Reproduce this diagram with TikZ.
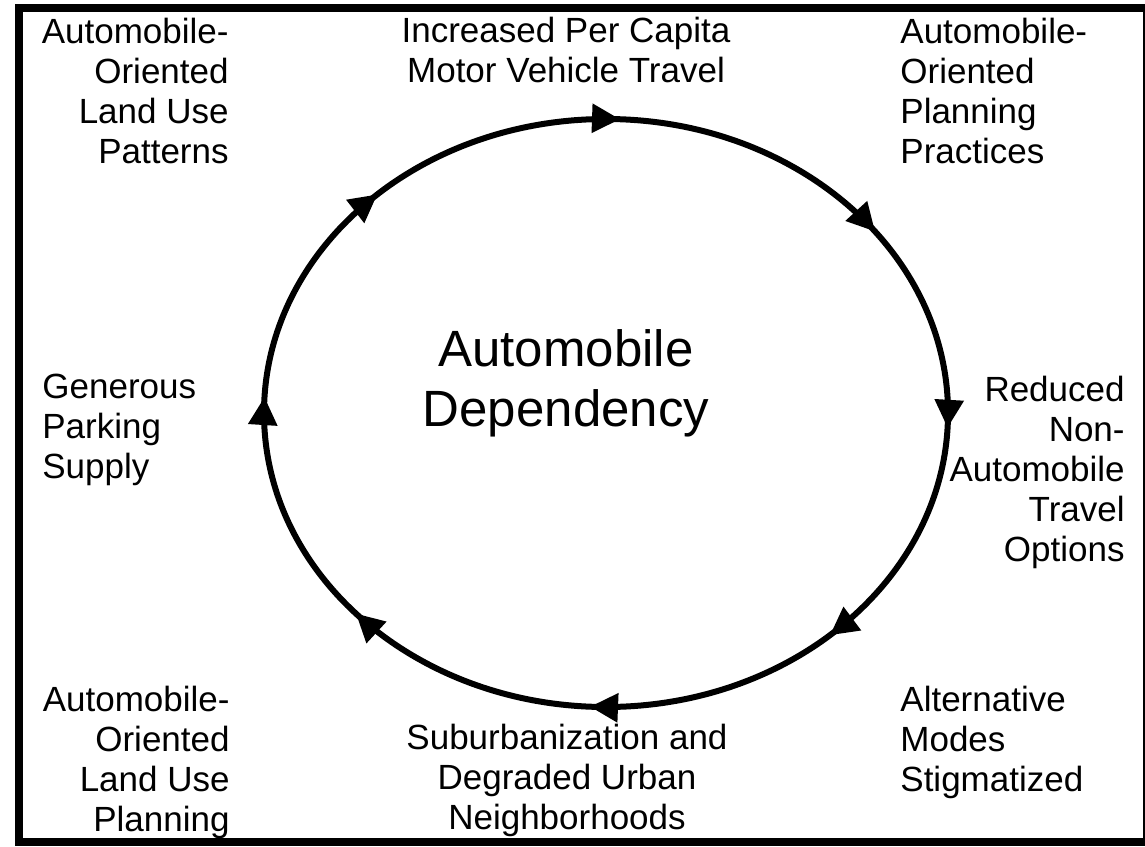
\documentclass[tikz,border=0pt]{standalone}
\usepackage{fontspec}
\setmainfont{Liberation Sans}
\usetikzlibrary{positioning,arrows.meta,decorations.markings}

\begin{document}
\begin{tikzpicture}[% one unit is one pixel of the original, y runs downwards
        x=0.5pt,y=-0.5pt,
        every node/.style={
            inner sep=0pt,
            font=\fontsize{17.5}{20}\selectfont	% labels round the loop
        },
        big/.style={font=\fontsize{25.5}{30}\selectfont,align=center},
        loop/.style={line width=3pt,postaction={decorate},
            decoration={markings,
                mark=at position 0.0074 with {\arrow{tip}},
                mark=at position 0.1305 with {\arrow{tip}},
                mark=at position 0.258 with {\arrow{tip}},
                mark=at position 0.3865 with {\arrow{tip}},
                mark=at position 0.508 with {\arrow{tip}},
                mark=at position 0.6275 with {\arrow{tip}},
                mark=at position 0.757 with {\arrow{tip}},
                mark=at position 0.900 with {\arrow{tip}}}},
        tip/.tip={Triangle[length=14pt,width=14pt]}
    ]
    \useasboundingbox (0,0) rectangle (1145,846);
    \draw[line width=4pt] (19,8) rectangle (1147,842);

    \node[big](R0) at (566,383){Automobile\\Dependency};
    \node[align=right,anchor=east](R1) at (229,91){Automobile-\\Oriented\\Land Use\\Patterns};
    \node[align=center](R2) at (566,50){Increased Per Capita\\Motor Vehicle Travel};
    \node[align=left,anchor=west](R3) at (900,91){Automobile-\\Oriented\\Planning\\Practices};
    \node[align=left,anchor=west](R4) at (42,430){Generous\\Parking\\Supply};
    \node[align=right,anchor=east](R5) at (1125,472){Reduced\\Non-\\Automobile\\Travel\\Options};
    \node[align=right,anchor=east](R6) at (230,762){Automobile-\\Oriented\\Land Use\\Planning};
    \node[align=center](R7) at (567,780){Suburbanization and\\Degraded Urban\\Neighborhoods};
    \node[align=left,anchor=west](R8) at (900,742){Alternative\\Modes\\Stigmatized};

    \coordinate (C) at (606,413);
    \draw[loop] (C) ellipse [x radius=342,y radius=294];
\end{tikzpicture}
\end{document}
